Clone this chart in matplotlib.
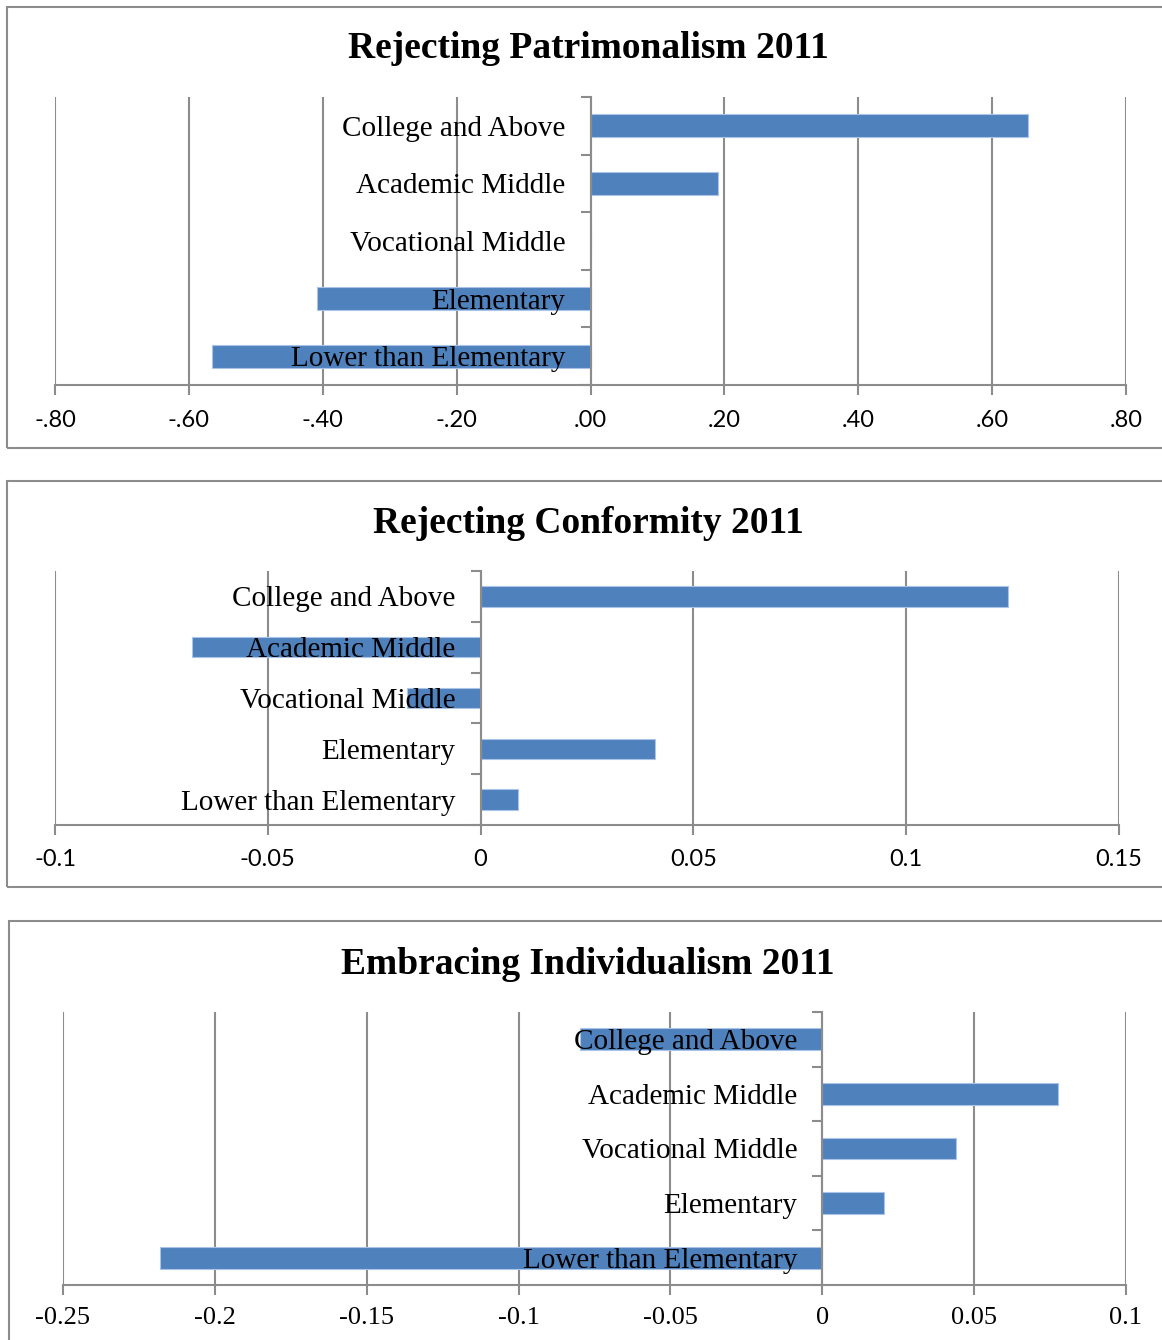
import matplotlib
matplotlib.use("Agg")
import matplotlib.pyplot as plt
from matplotlib.patches import Rectangle
from matplotlib.ticker import FixedLocator, FuncFormatter

categories = ["College and Above", "Academic Middle", "Vocational Middle",
              "Elementary", "Lower than Elementary"]

titles = ["Rejecting Patrimonalism 2011", "Rejecting Conformity 2011",
          "Embracing Individualism 2011"]

patrimonialism = [0.653, 0.190, 0.0, -0.408, -0.565]
conformity = [0.124, -0.0677, -0.0172, 0.0409, 0.0087]
individualism = [-0.0797, 0.0777, 0.0441, 0.0204, -0.218]

ticks1 = [-0.8, -0.6, -0.4, -0.2, 0.0, 0.2, 0.4, 0.6, 0.8]
ticks2 = [-0.1, -0.05, 0.0, 0.05, 0.1, 0.15]
ticks3 = [-0.25, -0.2, -0.15, -0.1, -0.05, 0.0, 0.05, 0.1]

W, H = 1162, 1340
fig = plt.figure(figsize=(W / 100, H / 100), dpi=100)

BAR = "#4F81BD"
GRID = "#8C8C8C"
FRAME = "#8C8C8C"
SERIF = ["Liberation Serif", "DejaVu Serif"]
SANS = ["Lato", "DejaVu Sans"]


def fmt_dot(v, pos):
    s = f"{v:.2f}"
    if s.startswith("-0"):
        s = "-" + s[2:]
    elif s.startswith("0"):
        s = s[1:]
    return s


def fmt_plain(v, pos):
    s = f"{v:.2f}".rstrip("0").rstrip(".")
    if s == "-0":
        s = "0"
    return s


panels = [
    dict(vals=patrimonialism, ticks=ticks1, fmt=fmt_dot, tickfont=SANS, ts=17,
         pad=11, box=(55, 97, 1126, 385), frame=(7, 7, 448), title_y=49),
    dict(vals=conformity, ticks=ticks2, fmt=fmt_plain, tickfont=SANS, ts=17,
         pad=10, box=(55, 571, 1119, 825), frame=(7, 481, 887), title_y=524),
    dict(vals=individualism, ticks=ticks3, fmt=fmt_plain, tickfont=SERIF, ts=19,
         pad=9, box=(63, 1012, 1126, 1285), frame=(9, 921, 1360), title_y=964),
]

for p, title in zip(panels, titles):
    fx, fy0, fy1 = p["frame"]
    fig.patches.append(Rectangle((fx / W, 1 - fy1 / H), (W + 20 - fx) / W,
                                 (fy1 - fy0) / H, transform=fig.transFigure,
                                 fill=False, edgecolor=FRAME, linewidth=1.5,
                                 zorder=0))
    fig.text(588 / W, 1 - p["title_y"] / H, title, ha="center", va="center",
             fontsize=27, fontweight="bold", family=SERIF)

    x0, y0, x1, y1 = p["box"]
    ax = fig.add_axes([x0 / W, 1 - y1 / H, (x1 - x0) / W, (y1 - y0) / H])
    ypos = list(range(len(categories)))
    ax.barh(ypos, p["vals"], height=0.4, color=BAR, edgecolor="#A9C4E6",
            linewidth=0.8, zorder=1)
    ax.set_xlim(p["ticks"][0], p["ticks"][-1])
    ax.set_ylim(len(categories) - 0.5, -0.5)

    ax.xaxis.set_major_locator(FixedLocator(p["ticks"]))
    ax.xaxis.set_major_formatter(FuncFormatter(p["fmt"]))
    ax.grid(axis="x", color=GRID, linewidth=1.5)
    ax.set_axisbelow(True)
    ax.yaxis.set_zorder(3)

    ax.set_yticks(ypos)
    ax.set_yticklabels(categories)
    ax.set_yticks([i - 0.5 for i in range(len(categories) + 1)], minor=True)
    ax.tick_params(axis="y", which="major", length=0, pad=18, labelsize=21,
                   labelfontfamily=SERIF)
    ax.tick_params(axis="y", which="minor", length=7, width=1.5, color=GRID,
                   direction="out")

    ax.tick_params(axis="x", length=7, width=1.5, color=GRID, direction="out",
                   labelsize=p["ts"], pad=p["pad"],
                   labelfontfamily=p["tickfont"])

    ax.spines["left"].set_position(("data", 0))
    for s in ("left", "bottom"):
        ax.spines[s].set_color(GRID)
        ax.spines[s].set_linewidth(1.5)
    ax.spines["top"].set_visible(False)
    ax.spines["right"].set_visible(False)
    ax.set_facecolor("none")

fig.savefig("out.png", dpi=100, facecolor="white")
